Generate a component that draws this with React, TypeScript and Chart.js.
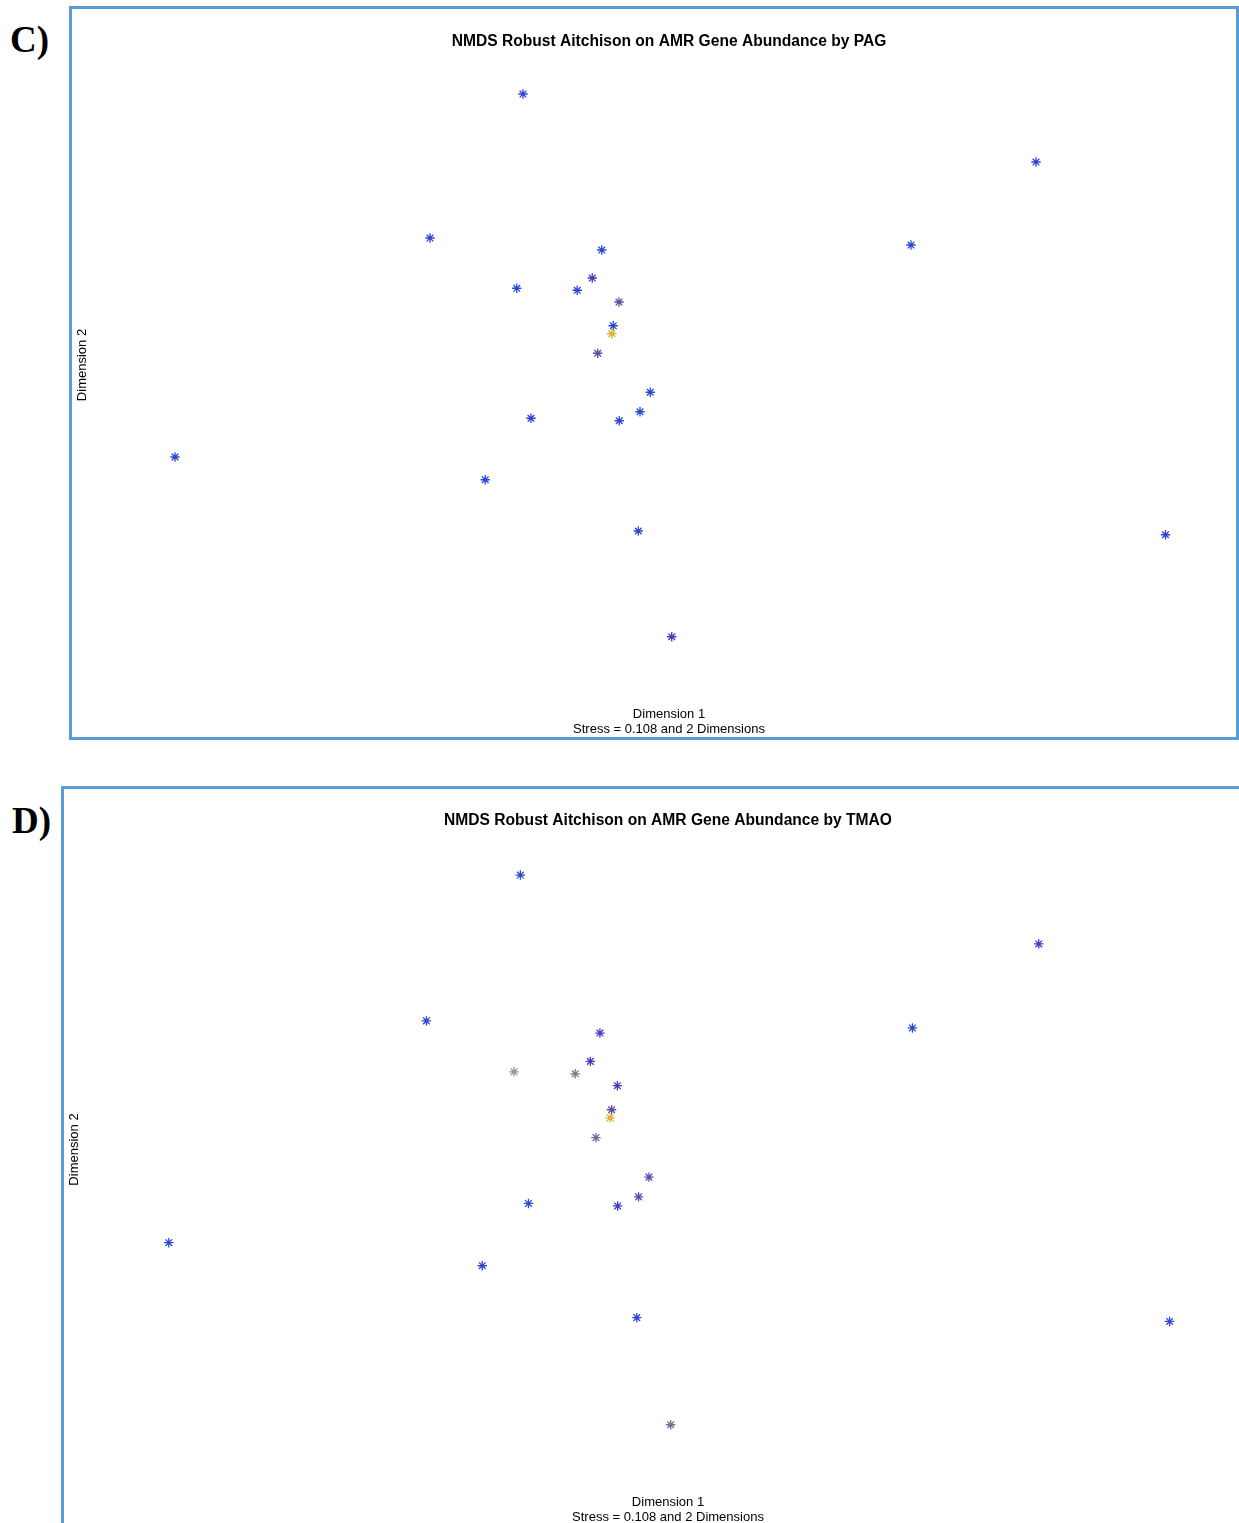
import React, { useEffect, useRef } from "react";
import { Chart, registerables } from "chart.js";

Chart.register(...registerables);

// NMDS coordinates (same ordination shown in both panels)
const dim1 = [
  -0.584, 1.468, -0.956, 0.968, -0.269, -0.609, -0.367, -0.307, -0.2, -0.223, -0.229,
  -0.285, -0.075, -0.116, -0.552, -0.199, -1.976, -0.735, -0.123, 1.986, 0.011,
];
const dim2 = [
  1.084, 0.812, 0.508, 0.48, 0.46, 0.307, 0.299, 0.348, 0.252, 0.157, 0.125,
  0.047, -0.109, -0.187, -0.213, -0.223, -0.368, -0.459, -0.664, -0.679, -1.087,
];

const xTitleLines = ["Dimension 1", "Stress = 0.108 and 2 Dimensions"];
const yTitle = "Dimension 2";
const titlePAG = "NMDS Robust Aitchison on AMR Gene Abundance by PAG";
const titleTMAO = "NMDS Robust Aitchison on AMR Gene Abundance by TMAO";

const BLUE = "#2c46d4";
const BLUE_PURPLE = "#3f3cbf";
const PURPLE = "#5e4aa6";
const PURPLE_GRAY = "#7a6896";
const GRAY_PURPLE = "#8c7288";
const GRAY_BROWN = "#a28c8c";
const YELLOW = "#e2b12e";

const colorsPAG = [
  BLUE, BLUE, BLUE, BLUE, BLUE, BLUE, BLUE, BLUE_PURPLE, PURPLE, BLUE, YELLOW,
  PURPLE, BLUE, BLUE, BLUE, BLUE, BLUE, BLUE, BLUE, BLUE, BLUE_PURPLE,
];
const colorsTMAO = [
  BLUE, BLUE_PURPLE, BLUE, BLUE, BLUE_PURPLE, GRAY_BROWN, GRAY_PURPLE, BLUE_PURPLE, BLUE_PURPLE, PURPLE, YELLOW,
  PURPLE_GRAY, PURPLE, PURPLE, BLUE, BLUE_PURPLE, BLUE, BLUE, BLUE, BLUE, PURPLE_GRAY,
];

const SANS = "'Liberation Sans', Arial, sans-serif";

type PanelProps = {
  title: string;
  colors: string[];
  width: number;
  height: number;
  xMin: number;
  xMax: number;
  yMin: number;
  yMax: number;
  titlePadTop: number;
  titlePadBottom: number;
  xTitlePadTop: number;
  yTitlePadTop: number;
  yTitlePadBottom: number;
};

function Panel(p: PanelProps) {
  const ref = useRef<HTMLCanvasElement | null>(null);
  useEffect(() => {
    if (!ref.current) return;
    const points = dim1.map((x, i) => ({ x, y: dim2[i] }));
    const chart = new Chart(ref.current, {
      type: "scatter",
      data: {
        datasets: [
          {
            data: points,
            pointStyle: "star",
            pointRadius: 4.7,
            pointHoverRadius: 4.7,
            pointBorderWidth: 1.3,
            pointBorderColor: p.colors,
            pointBackgroundColor: p.colors,
          },
        ],
      },
      options: {
        animation: false,
        responsive: false,
        maintainAspectRatio: false,
        events: [],
        layout: { padding: 0, autoPadding: false },
        plugins: {
          legend: { display: false },
          tooltip: { enabled: false },
          title: {
            display: true,
            fullSize: false,
            text: p.title,
            color: "#000",
            font: { family: SANS, size: 15.6, weight: "bold", lineHeight: 1.2 },
            padding: { top: p.titlePadTop, bottom: p.titlePadBottom },
          },
        },
        scales: {
          x: {
            type: "linear",
            min: p.xMin,
            max: p.xMax,
            grid: { display: false, drawTicks: false },
            border: { display: false },
            ticks: { display: false },
            title: {
              display: true,
              text: xTitleLines,
              color: "#000",
              font: { family: SANS, size: 13, lineHeight: 1.15 },
              padding: { top: p.xTitlePadTop, bottom: 0 },
            },
          },
          y: {
            type: "linear",
            min: p.yMin,
            max: p.yMax,
            grid: { display: false, drawTicks: false },
            border: { display: false },
            ticks: { display: false },
            title: {
              display: true,
              text: yTitle,
              color: "#000",
              font: { family: SANS, size: 13, lineHeight: 1.15 },
              padding: { top: p.yTitlePadTop, bottom: p.yTitlePadBottom },
            },
          },
        },
      },
    });
    return () => chart.destroy();
  }, []);
  return (
    <canvas
      ref={ref}
      width={p.width}
      height={p.height}
      style={{ display: "block", width: p.width, height: p.height }}
    />
  );
}

export default function App() {
  const label: React.CSSProperties = {
    position: "absolute",
    fontFamily: "'Liberation Serif', 'Times New Roman', serif",
    fontWeight: "bold",
    fontSize: 37,
    lineHeight: "37px",
    color: "#000",
  };
  const box: React.CSSProperties = {
    position: "absolute",
    boxSizing: "border-box",
    border: "3px solid #5b9bd5",
    background: "#fff",
  };
  return (
    <div
      style={{
        position: "fixed",
        left: 0,
        top: 0,
        width: 1239,
        height: 1523,
        overflow: "hidden",
        background: "#fff",
      }}
    >
      <div style={{ ...label, left: 10, top: 21 }}>C)</div>
      <div style={{ ...box, left: 69, top: 6, width: 1170, height: 734 }}>
        <Panel
          title={titlePAG}
          colors={colorsPAG}
          width={1164}
          height={728}
          xMin={-2.268}
          xMax={2.268}
          yMin={-1.216}
          yMax={1.216}
          titlePadTop={23.5}
          titlePadBottom={9.8}
          xTitlePadTop={38.1}
          yTitlePadTop={2.5}
          yTitlePadBottom={12.55}
        />
      </div>
      <div style={{ ...label, left: 12, top: 802 }}>D)</div>
      <div style={{ ...box, left: 61, top: 786, width: 1184, height: 742 }}>
        <Panel
          title={titleTMAO}
          colors={colorsTMAO}
          width={1175}
          height={736}
          xMin={-2.2601}
          xMax={2.2609}
          yMin={-1.2223}
          yMax={1.2223}
          titlePadTop={22.6}
          titlePadBottom={9.7}
          xTitlePadTop={36.1}
          yTitlePadTop={2.5}
          yTitlePadBottom={15.55}
        />
      </div>
    </div>
  );
}
